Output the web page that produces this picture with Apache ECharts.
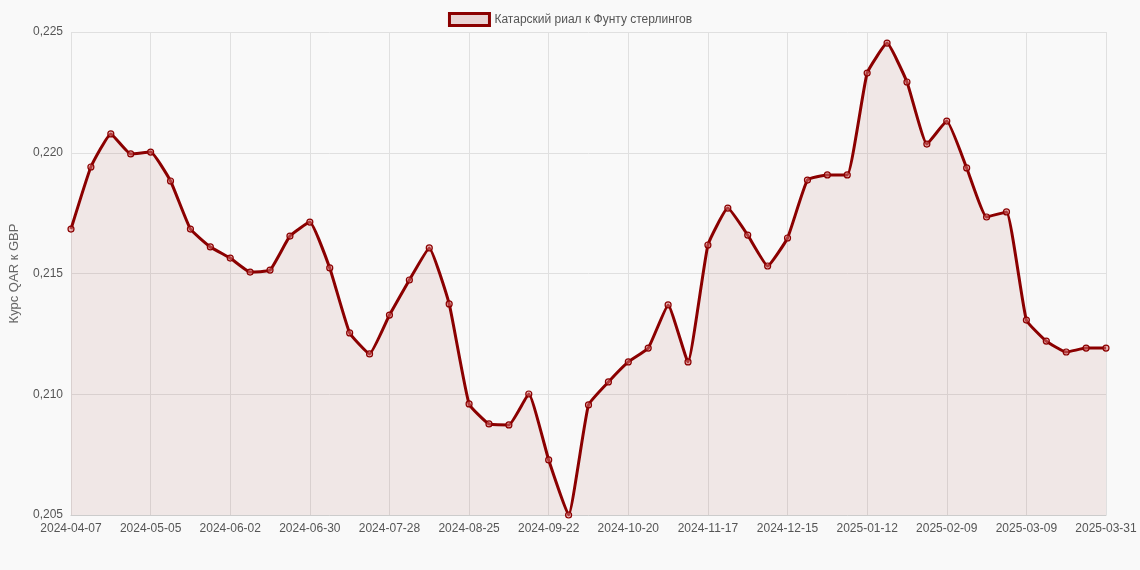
<!DOCTYPE html>
<html><head><meta charset="utf-8">
<script src="https://cdn.jsdelivr.net/npm/echarts@6/dist/echarts.min.js"></script>
<style>html,body{margin:0;padding:0;background:#f9f9f9}#c{width:1140px;height:570px}</style>
</head><body><div id="c"></div>
<script>
var startDate = '2024-04-07';
var lastDate = '2025-03-31';
var values = [0.21684,0.21941,0.22078,0.21995,0.22003,0.21883,0.21684,0.21610,0.21564,0.21506,0.21514,0.21655,0.21713,0.21523,0.21254,0.21167,0.21328,0.21473,0.21606,0.21374,0.20960,0.20877,0.20873,0.21001,0.20728,0.20500,0.20956,0.21051,0.21134,0.21191,0.21370,0.21134,0.21618,0.21771,0.21659,0.21531,0.21647,0.21887,0.21908,0.21908,0.22330,0.22454,0.22293,0.22036,0.22131,0.21937,0.21734,0.21755,0.21307,0.21220,0.21175,0.21191,0.21191];
var seriesName = 'Катарский риал к Фунту стерлингов';
var yAxisName = 'Курс QAR к GBP';
var categories = [];
(function(){
  var d = new Date(startDate + 'T00:00:00Z');
  for (var i = 0; i < values.length - 1; i++) {
    categories.push(d.toISOString().slice(0,10));
    d = new Date(d.getTime() + 7*86400000);
  }
  categories.push(lastDate);
})();
var chart = echarts.init(document.getElementById('c'));
chart.setOption({
  backgroundColor:'#f9f9f9',
  textStyle:{fontFamily:'Arial, Liberation Sans, sans-serif'},
  legend:{top:7,left:'center',itemWidth:40,itemHeight:12,textStyle:{color:'#555',fontSize:12},
    data:[{name:seriesName,icon:'rect',itemStyle:{color:'rgba(139,0,0,0.15)',borderColor:'#8b0000',borderWidth:3}}]},
  grid:{left:68,right:34,top:32,bottom:55,containLabel:false},
  xAxis:{type:'category',boundaryGap:false,data:categories,
    axisLine:{lineStyle:{color:'#ccc'}},axisTick:{show:false},
    axisLabel:{interval:3,color:'#555',fontSize:12,margin:8},
    splitLine:{show:true,interval:3,lineStyle:{color:'#e0e0e0'}}},
  yAxis:{type:'value',min:0.205,max:0.225,interval:0.005,
    name:yAxisName,nameLocation:'middle',nameGap:50,nameTextStyle:{color:'#666',fontSize:13},
    axisLine:{show:false},axisTick:{show:false},
    axisLabel:{color:'#555',fontSize:12,formatter:function(v){return v.toFixed(3).replace('.',',');}},
    splitLine:{lineStyle:{color:'#e0e0e0'}}},
  series:[{name:seriesName,type:'line',data:values,smooth:0.12,
    symbol:'circle',symbolSize:6,showSymbol:true,
    itemStyle:{color:'rgba(220,120,120,0.5)',borderColor:'#8b0000',borderWidth:1.2},
    lineStyle:{color:'#8b0000',width:3},
    areaStyle:{color:'rgba(160,60,40,0.13)'}}]
});
</script></body></html>
